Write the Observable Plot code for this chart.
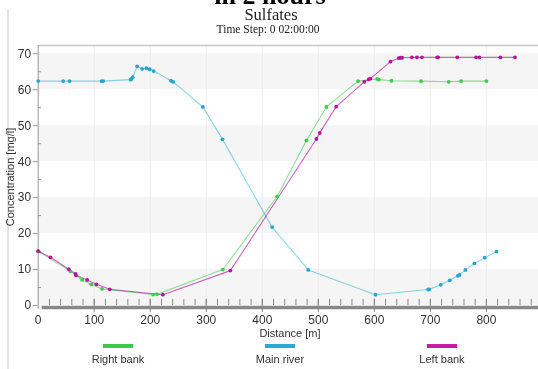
<!DOCTYPE html>
<html><head><meta charset="utf-8">
<script src="https://cdn.jsdelivr.net/npm/d3@7"></script>
<script src="https://cdn.jsdelivr.net/npm/@observablehq/plot@0.6"></script>
<style>body{margin:0;background:#fff} #c{position:relative;width:538px;height:369px;overflow:hidden}</style>
</head><body><div id="c"></div>
<script>
// ---- data ----
const mainRiverX = [0, 44.6, 55.9, 113, 116, 165, 166.5, 168.8, 176.6, 185.5, 193, 199, 206, 237, 241, 294, 329, 417.5, 482, 602, 696, 698, 718.5, 734.6, 749, 752, 762.5, 778.6, 797, 818];
const mainRiverY = [62.4, 62.4, 62.4, 62.4, 62.4, 62.8, 63.0, 63.5, 66.5, 65.8, 66.0, 65.7, 65.2, 62.5, 62.2, 55.2, 46.2, 21.8, 9.9, 3.0, 4.45, 4.5, 5.75, 7.0, 8.25, 8.5, 9.9, 11.7, 13.3, 15.0];
const rightBankX = [0, 57.5, 78.5, 94.6, 114, 205, 212, 329.5, 426.5, 478.8, 514.5, 571, 605, 608, 630.5, 683.4, 732.7, 755, 800];
const rightBankY = [15.1, 9.5, 7.1, 5.9, 4.6, 3.05, 3.15, 10.0, 30.3, 45.9, 55.2, 62.4, 63.0, 62.8, 62.5, 62.4, 62.2, 62.4, 62.4];
const leftBankX = [0, 22, 54.6, 66.6, 67.5, 87.4, 104, 127.8, 222.5, 343, 496.6, 502.6, 531.8, 582, 590, 593, 628.7, 643.5, 646.5, 649.5, 667, 676, 685, 712, 714, 748, 781.6, 787.5, 825, 851];
const leftBankY = [15.1, 13.4, 10.1, 8.8, 8.4, 7.1, 5.9, 4.5, 3.0, 9.7, 46.3, 48.0, 55.3, 62.2, 62.9, 63.1, 67.8, 68.8, 68.9, 68.9, 69, 69, 69, 69, 69, 69, 69, 69, 69, 69];

const seriesNames = ["Right bank", "Main river", "Left bank"];
const lineColors = ["#8ee49a", "#8fd8ea", "#d866c6"];
const dotColors = ["#3ccc4c", "#22a6d2", "#b8139c"];
const legendColors = ["#3cc94a", "#2aa9d6", "#c61ca8"];

const yTickLabels = [0, 10, 20, 30, 40, 50, 60, 70];
const yMinorTicks = [5, 15, 25, 35, 45, 55, 65];
const xTickLabels = [0, 100, 200, 300, 400, 500, 600, 700, 800];
const xMinorTicks = d3.range(20, 900, 20);
const bandStarts = [0, 20, 40, 60];
const bandHeight = 10;

const titleText = "in 2 hours";
const chartTitle = "Sulfates";
const chartSubtitle = "Time Step: 0 02:00:00";
const xLabel = "Distance [m]";
const yLabel = "Concentration [mg/l]";

const xDomain = [0, 893];
const yDomain = [-1, 72.3];

// ---- build tables ----
function rows(xs, ys, name) { return xs.map((x, i) => ({x, y: ys[i], name})); }
const series = [
  rows(rightBankX, rightBankY, seriesNames[0]),
  rows(mainRiverX, mainRiverY, seriesNames[1]),
  rows(leftBankX, leftBankY, seriesNames[2])
];

const marks = [
  Plot.rectY(bandStarts, {y1: d => d, y2: d => d + bandHeight, fill: "#f5f5f5"}),
  Plot.ruleX(xTickLabels.filter(d => d > 0), {y1: 0, y2: yDomain[1], stroke: "#ededed", strokeWidth: 1}),
  Plot.ruleY([yDomain[1]], {stroke: "#c8c8c8", strokeWidth: 1.5}),
  Plot.ruleX([0], {y1: -1, y2: yDomain[1], stroke: "#999", strokeWidth: 1}),
  Plot.ruleY(yMinorTicks, {x1: 0, x2: 6, stroke: "#999"}),
  Plot.ruleY([0], {x1: 7, x2: xDomain[1], stroke: "#888", strokeWidth: 3.5, dy: 2}),
  Plot.ruleX(xMinorTicks, {y1: 0, y2: 1.7, stroke: "#888"}),
  Plot.ruleX(xTickLabels.filter(d => d > 0), {y1: -2, y2: 1.7, stroke: "#888"}),
  Plot.axisY({ticks: yTickLabels, tickSize: 5, tickPadding: 2, stroke: "#999", fontSize: 12, label: null}),
  Plot.axisX({ticks: xTickLabels, tickSize: 0, tickPadding: 6, fontSize: 12, label: null})
];
series.forEach((data, i) => {
  marks.push(Plot.line(data, {x: "x", y: "y", stroke: lineColors[i], strokeWidth: 1.1, mixBlendMode: "multiply"}));
});
series.forEach((data, i) => {
  marks.push(Plot.dot(data, {x: "x", y: "y", r: 1.9, fill: dotColors[i], stroke: "none"}));
});

const chart = Plot.plot({
  width: 538, height: 369,
  marginLeft: 37.7, marginRight: 0, marginTop: 45, marginBottom: 60.4,
  style: {fontFamily: "'Liberation Sans', Arial, sans-serif", fontSize: "12px", color: "#333", background: "white", overflow: "visible"},
  x: {domain: xDomain, label: null},
  y: {domain: yDomain, label: null},
  marks
});
document.getElementById("c").appendChild(chart);

// ---- annotations: titles, axis labels, legend ----
const svg = d3.select(chart);
svg.insert("line", ":first-child").attr("x1", 8).attr("x2", 8).attr("y1", 10).attr("y2", 369)
  .attr("stroke", "#d0d0d0").attr("stroke-width", 1.2);
const serif = "'Liberation Serif', 'Times New Roman', serif";
const sans = "'Liberation Sans', Arial, sans-serif";
svg.append("text").attr("x", 270).attr("y", 4).attr("text-anchor", "middle")
  .attr("font-family", serif).attr("font-weight", "bold").attr("font-size", 26).attr("fill", "#000").text(titleText);
svg.append("text").attr("x", 271).attr("y", 20).attr("text-anchor", "middle")
  .attr("font-family", serif).attr("font-size", 16.5).attr("fill", "#222").text(chartTitle);
svg.append("text").attr("x", 268).attr("y", 32.5).attr("text-anchor", "middle")
  .attr("font-family", serif).attr("font-size", 11.5).attr("fill", "#222").text(chartSubtitle);
svg.append("text").attr("x", 290).attr("y", 337).attr("text-anchor", "middle")
  .attr("font-family", sans).attr("font-size", 11).attr("fill", "#333").text(xLabel);
svg.append("text").attr("transform", "translate(14,177) rotate(-90)").attr("text-anchor", "middle")
  .attr("font-family", sans).attr("font-size", 11).attr("fill", "#333").text(yLabel);
const legendCenters = [118, 280, 442];
seriesNames.forEach((name, i) => {
  svg.append("rect").attr("x", legendCenters[i] - 15).attr("y", 344).attr("width", 30).attr("height", 4)
    .attr("fill", legendColors[i]);
  svg.append("text").attr("x", legendCenters[i]).attr("y", 363).attr("text-anchor", "middle")
    .attr("font-family", sans).attr("font-size", 11).attr("fill", "#333").text(name);
});
</script>
</body></html>
